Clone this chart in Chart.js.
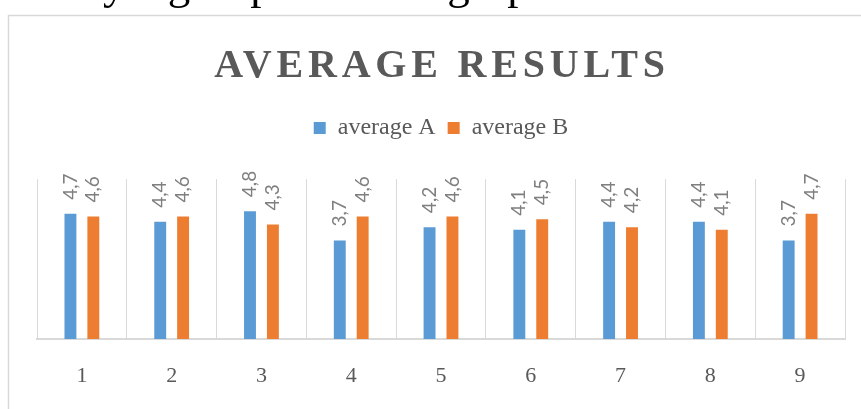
<!DOCTYPE html>
<html>
<head>
<meta charset="utf-8">
<script src="https://cdn.jsdelivr.net/npm/chart.js@4"></script>
<style>
  html, body { margin: 0; padding: 0; background: #ffffff; }
  #wrap { width: 861px; height: 409px; position: relative; }
</style>
</head>
<body>
<div id="wrap"><canvas id="c" width="861" height="409"></canvas></div>
<script>
// Group numbers on the category axis
const categories = ['1', '2', '3', '4', '5', '6', '7', '8', '9'];
// Average score per group
const averageA = [4.7, 4.4, 4.8, 3.7, 4.2, 4.1, 4.4, 4.4, 3.7];
const averageB = [4.6, 4.6, 4.3, 4.6, 4.6, 4.5, 4.2, 4.1, 4.7];
const seriesNames = ['average A', 'average B'];
const titleText = 'AVERAGE RESULTS';
const pageLine = 'y groups of high-p';

const GREY = '#595959';

// Frame, page text above the frame, and the spaced-out title
const decorPlugin = {
  id: 'decor',
  beforeDraw(chart) {
    const ctx = chart.ctx;
    ctx.save();
    ctx.fillStyle = '#ffffff';
    ctx.fillRect(0, 0, chart.width, chart.height);
    // body text line running above the chart frame
    ctx.fillStyle = '#000000';
    ctx.font = '45px "Liberation Serif", "Times New Roman", serif';
    ctx.textBaseline = 'alphabetic';
    ctx.textAlign = 'left';
    if ('wordSpacing' in ctx) ctx.wordSpacing = '31px';
    ctx.fillText(pageLine, 103, -1);
    if ('wordSpacing' in ctx) ctx.wordSpacing = '0px';
    // chart frame
    ctx.strokeStyle = '#d9d9d9';
    ctx.lineWidth = 1.5;
    ctx.strokeRect(8.5, 15.5, chart.width + 20, chart.height + 20);
    // title
    ctx.fillStyle = GREY;
    ctx.font = 'bold 40px "Liberation Serif", "Times New Roman", serif';
    ctx.textAlign = 'center';
    if ('letterSpacing' in ctx) ctx.letterSpacing = '4.8px';
    ctx.fillText(titleText, 442, 77);
    if ('letterSpacing' in ctx) ctx.letterSpacing = '0px';
    ctx.restore();
  }
};

// Rotated value labels above each bar, with a decimal comma
const valueLabelPlugin = {
  id: 'valueLabels',
  afterDatasetsDraw(chart) {
    const ctx = chart.ctx;
    ctx.save();
    ctx.fillStyle = '#7f7f7f';
    ctx.font = '19px Lato, "Open Sans", sans-serif';
    ctx.textAlign = 'left';
    ctx.textBaseline = 'middle';
    chart.data.datasets.forEach((ds, di) => {
      const meta = chart.getDatasetMeta(di);
      meta.data.forEach((bar, i) => {
        const txt = ds.data[i].toFixed(1).replace('.', ',');
        ctx.save();
        ctx.translate(bar.x, bar.y - 14);
        ctx.rotate(-Math.PI / 2);
        ctx.fillText(txt, 0, 0);
        ctx.restore();
      });
    });
    ctx.restore();
  }
};

new Chart(document.getElementById('c'), {
  type: 'bar',
  data: {
    labels: categories,
    datasets: [
      { label: seriesNames[0], data: averageA, backgroundColor: '#5b9bd5',
        categoryPercentage: 0.51, barPercentage: 0.52 },
      { label: seriesNames[1], data: averageB, backgroundColor: '#ed7d31',
        categoryPercentage: 0.51, barPercentage: 0.52 }
    ]
  },
  options: {
    responsive: false,
    animation: false,
    layout: { padding: { left: 37, right: 16, top: 104, bottom: 0 } },
    plugins: {
      title: { display: false },
      // empty spacer box between the legend and the plot area
      subtitle: { display: true, text: ' ', weight: 500,
                  font: { size: 1 }, padding: { top: 0, bottom: 28 } },
      tooltip: { enabled: false },
      legend: {
        display: true,
        position: 'top',
        labels: {
          color: GREY,
          font: { family: '"Liberation Serif", "Times New Roman", serif', size: 24 },
          boxWidth: 12,
          boxHeight: 12,
          padding: 12
        }
      }
    },
    scales: {
      y: { display: false, min: 0, max: 6 },
      x: {
        grid: { color: '#d9d9d9', lineWidth: 1, drawTicks: false, offset: true },
        border: { color: '#d9d9d9', width: 2 },
        ticks: {
          color: GREY,
          padding: 24,
          font: { family: '"Liberation Serif", "Times New Roman", serif', size: 22 }
        },
        afterFit(scale) { scale.height = 70; }
      }
    }
  },
  plugins: [decorPlugin, valueLabelPlugin]
});
</script>
</body>
</html>
